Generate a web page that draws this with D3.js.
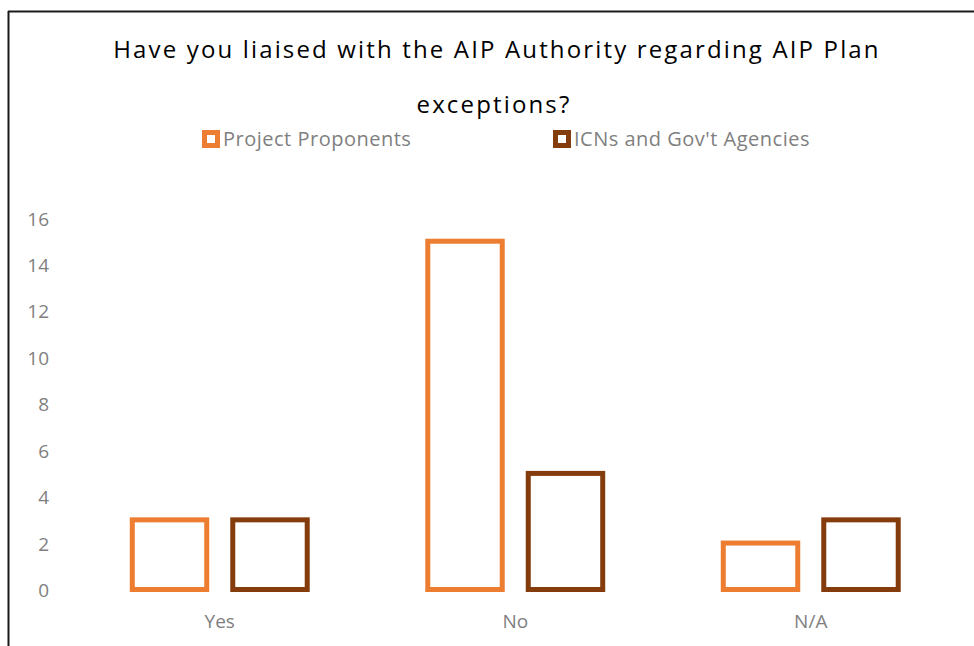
<!DOCTYPE html>
<html>
<head>
<meta charset="utf-8">
<script src="https://cdn.jsdelivr.net/npm/d3@7"></script>
<style>
  html, body { margin: 0; padding: 0; background: #fff; }
  svg { display: block; }
</style>
</head>
<body>
<script>
// Survey responses per answer, by respondent group
const categories = ["Yes", "No", "N/A"];
const seriesNames = ["Project Proponents", "ICNs and Gov't Agencies"];
const projectProponents = [3, 15, 2];
const icnsGovAgencies = [3, 5, 3];
const yTicks = [0, 2, 4, 6, 8, 10, 12, 14, 16];
const titleLines = ["Have you liaised with the AIP Authority regarding AIP Plan", "exceptions?"];

const colors = ["#ED7D31", "#843C0C"];
const seriesValues = [projectProponents, icnsGovAgencies];

const W = 974, H = 646;
const svg = d3.select("body").append("svg").attr("width", W).attr("height", H);

// Chart frame (top and left edges visible)
svg.append("line").attr("x1", 8).attr("x2", W).attr("y1", 11.5).attr("y2", 11.5)
  .attr("stroke", "#1a1a1a").attr("stroke-width", 2);
svg.append("line").attr("x1", 8.5).attr("x2", 8.5).attr("y1", 11).attr("y2", H)
  .attr("stroke", "#1a1a1a").attr("stroke-width", 2);

// Title
const title = svg.append("text")
  .attr("text-anchor", "middle")
  .attr("font-family", "'Open Sans', sans-serif")
  .attr("font-size", 24)
  .attr("letter-spacing", 2.15)
  .attr("fill", "#000");
titleLines.forEach((t, i) => {
  title.append("tspan").attr("x", [497, 494][i]).attr("y", 58 + i * 55).text(t);
});

// Legend
const legendX = [202, 553];
const legend = svg.append("g");
seriesNames.forEach((name, i) => {
  const g = legend.append("g").attr("transform", `translate(${legendX[i]},130)`);
  g.append("rect").attr("x", 2.5).attr("y", 2.5).attr("width", 13).attr("height", 13)
    .attr("fill", "#fff").attr("stroke", colors[i]).attr("stroke-width", 5);
  g.append("text").attr("x", 21).attr("y", 16)
    .attr("font-family", "'Open Sans', sans-serif").attr("font-size", 20)
    .attr("letter-spacing", 0.5)
    .attr("fill", "#7f7f7f").text(name);
});

// Scales
const x0 = d3.scaleBand().domain(categories).range([72, 958.5])
  .paddingInner(0.408).paddingOuter(0.204);
const x1 = d3.scaleBand().domain(d3.range(seriesNames.length)).range([0, x0.bandwidth()])
  .paddingInner(0.259).paddingOuter(0);
const y = d3.scaleLinear().domain([0, 16]).range([589.5, 218]);

// Y axis labels only
const yAxis = d3.axisLeft(y).tickValues(yTicks).tickSize(0).tickPadding(0);
const yg = svg.append("g").attr("transform", "translate(49,1)").call(yAxis);
yg.select(".domain").remove();
yg.selectAll("text").attr("font-family", "'Open Sans', sans-serif")
  .attr("font-size", 19).attr("fill", "#7f7f7f");

// X axis labels only
const xAxis = d3.axisBottom(x0).tickSize(0).tickPadding(0);
const xg = svg.append("g").attr("transform", "translate(0,614)").call(xAxis);
xg.select(".domain").remove();
xg.selectAll("text").attr("font-family", "'Open Sans', sans-serif")
  .attr("font-size", 19).attr("fill", "#7f7f7f");

// Outlined bars
const groups = svg.append("g").selectAll("g").data(categories).join("g")
  .attr("transform", d => `translate(${x0(d)},0)`);
groups.selectAll("rect")
  .data((d, ci) => seriesValues.map((vals, si) => ({ si, v: vals[ci] })))
  .join("rect")
  .attr("x", d => x1(d.si))
  .attr("width", x1.bandwidth())
  .attr("y", d => y(d.v))
  .attr("height", d => y(0) - y(d.v))
  .attr("fill", "none")
  .attr("stroke", d => colors[d.si])
  .attr("stroke-width", 5);
</script>
</body>
</html>
